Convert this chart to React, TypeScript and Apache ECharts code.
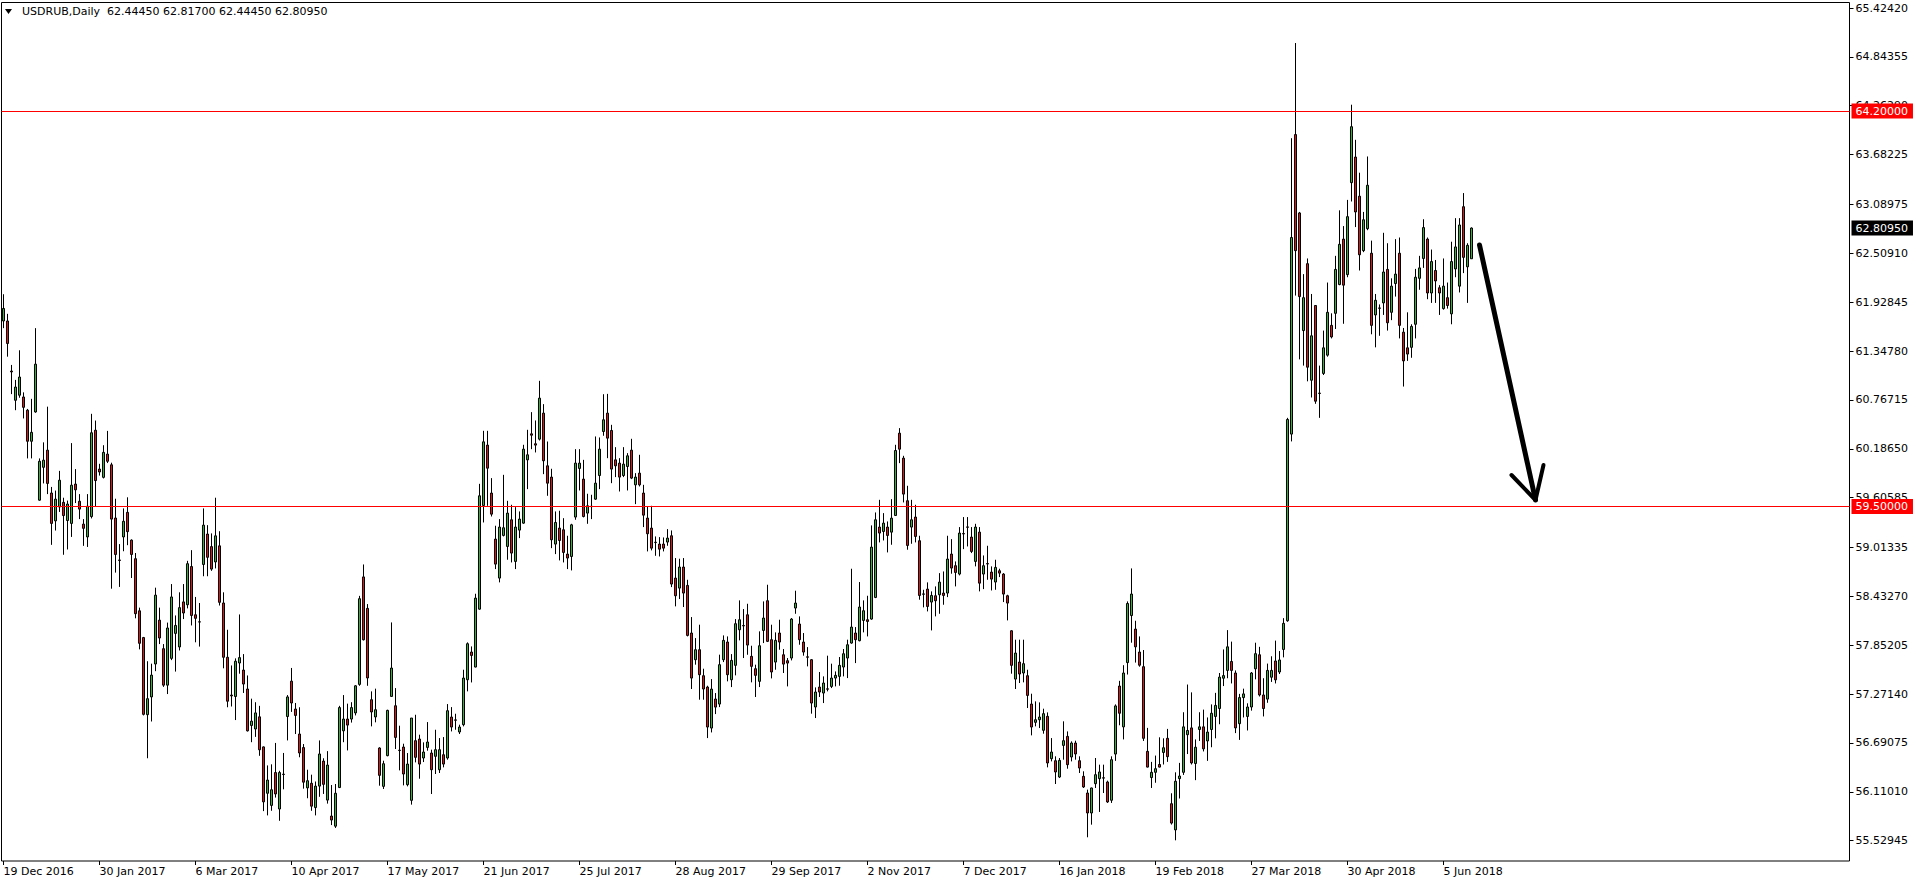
import React, { useEffect, useRef } from 'react';
import * as echarts from 'echarts';

const symbolTitle = 'USDRUB,Daily';
const lastBarOHLC = [62.4445, 62.817, 62.4445, 62.8095];
const dateLabels = ['19 Dec 2016', '30 Jan 2017', '6 Mar 2017', '10 Apr 2017', '17 May 2017', '21 Jun 2017', '25 Jul 2017', '28 Aug 2017', '29 Sep 2017', '2 Nov 2017', '7 Dec 2017', '16 Jan 2018', '19 Feb 2018', '27 Mar 2018', '30 Apr 2018', '5 Jun 2018'];
const barsPerLabel = 24;
const slotCount = 462;
const priceTicks = [55.52945, 56.1101, 56.69075, 57.2714, 57.85205, 58.4327, 59.01335, 59.60585, 60.1865, 60.76715, 61.3478, 61.92845, 62.5091, 63.08975, 63.68225, 64.2629, 64.84355, 65.4242];
const priceMin = 55.2882;
const priceMax = 65.4896;
const levels = [64.2, 59.5];
const lastPrice = 62.8095;
const arrowShaft = [[369.1, 62.608], [383.1, 59.578]];
const arrowLeftWing = [[376.6, 59.875], [383.1, 59.578]];
const arrowRightWing = [[384.6, 59.994], [383.1, 59.578]];

const opens = [
  61.705,61.705,61.110,60.763,60.823,60.802,60.645,60.276,60.624,59.576,
  59.966,60.170,59.661,59.330,59.495,59.550,59.334,59.300,59.767,59.563,
  59.291,59.139,59.381,60.407,59.945,59.847,60.123,59.996,59.364,58.865,
  59.139,59.431,59.101,58.880,58.261,57.943,57.027,57.238,57.629,58.150,
  57.811,57.378,57.696,57.993,57.832,58.367,58.333,58.787,58.214,58.130,
  58.812,59.173,59.024,58.842,59.033,58.354,57.709,57.260,57.243,57.641,
  57.557,57.332,56.899,56.857,57.001,56.644,56.093,55.949,56.339,55.906,
  56.320,57.005,57.425,57.094,56.797,56.636,56.157,56.212,55.923,56.178,
  56.475,56.012,55.822,55.702,56.161,56.835,56.975,56.975,57.048,57.387,
  58.664,58.290,57.205,57.000,56.631,56.175,56.540,57.244,57.133,56.605,
  56.642,56.195,56.009,56.718,56.737,56.512,56.638,56.571,56.532,56.373,
  56.551,56.512,56.999,56.965,56.821,56.908,57.442,57.771,57.593,58.281,
  59.513,60.230,59.660,59.113,58.650,59.157,59.026,59.343,58.848,59.220,
  59.303,60.055,60.364,60.246,60.301,60.610,59.984,59.850,59.054,59.244,
  59.224,58.935,58.907,59.375,59.953,59.826,59.422,59.503,59.588,59.869,
  60.392,60.610,60.404,60.055,60.016,59.869,59.976,60.170,59.758,59.897,
  59.660,59.363,59.244,59.076,59.054,59.054,59.078,59.153,58.650,58.531,
  58.781,58.563,57.997,57.680,57.799,57.490,57.355,56.868,57.213,57.153,
  57.680,57.890,57.442,57.613,58.036,58.086,58.214,57.720,57.573,57.423,
  58.028,58.381,57.918,57.652,57.997,57.739,57.668,57.700,58.294,58.104,
  57.890,57.714,57.680,57.118,57.355,57.284,57.334,57.363,57.462,57.482,
  57.593,57.700,57.878,57.997,57.906,58.147,58.155,58.163,58.420,59.256,
  59.204,59.256,59.196,59.394,60.372,60.075,59.569,59.256,59.375,59.094,
  58.462,58.519,58.365,58.440,58.452,58.472,58.472,58.935,58.797,58.698,
  59.179,59.258,59.137,58.848,59.196,58.698,58.822,58.721,58.603,58.737,
  58.698,58.440,58.024,57.450,57.652,57.522,57.490,57.153,56.936,56.967,
  56.841,57.007,56.504,56.480,56.286,56.662,56.769,56.524,56.690,56.480,
  56.294,56.096,55.859,56.207,56.267,56.277,56.227,56.010,56.559,57.367,
  56.882,57.646,58.205,58.044,57.771,57.597,56.591,56.280,56.342,56.435,
  56.578,56.746,55.969,55.658,56.267,56.342,56.789,56.870,56.447,56.851,
  56.882,56.715,56.851,57.006,57.100,57.460,57.553,57.659,57.522,56.920,
  57.230,57.006,57.118,57.572,57.739,57.261,57.212,57.472,57.665,57.534,
  57.802,58.143,60.361,63.920,62.989,61.591,62.386,61.001,61.889,60.848,
  61.082,61.299,61.653,61.796,62.138,62.678,62.256,63.349,63.653,63.188,
  62.541,62.802,62.510,61.777,61.860,61.920,62.318,61.808,62.150,62.510,
  61.572,61.386,61.392,61.666,62.212,62.448,62.678,62.038,62.305,62.100,
  61.852,61.982,61.790,62.324,62.119,63.063,62.349,62.4445,
];

const highs = [
  62.023,61.790,61.183,61.005,61.357,60.857,60.660,60.780,61.620,60.072,
  60.263,60.687,59.733,59.690,59.924,59.605,59.571,60.254,59.945,59.648,
  59.351,59.648,60.602,60.522,60.008,60.229,60.399,60.021,59.593,59.054,
  59.478,59.610,59.110,58.948,58.299,57.951,57.662,57.633,58.536,58.299,
  57.866,58.121,58.579,58.206,58.481,58.579,58.855,58.982,58.426,58.354,
  59.478,59.279,59.181,59.605,59.207,58.481,58.036,57.612,57.696,58.218,
  57.747,57.493,57.217,57.175,57.132,56.650,56.424,56.437,56.691,56.360,
  56.572,57.260,57.582,57.166,57.115,56.678,56.373,56.314,56.233,56.721,
  56.509,56.594,56.191,56.203,57.132,57.260,57.158,57.175,57.378,58.439,
  58.812,58.341,57.304,57.336,56.640,56.480,57.086,58.123,57.343,56.896,
  56.682,56.571,56.987,57.026,56.789,56.698,56.939,56.611,56.848,56.749,
  56.761,57.153,57.117,57.038,56.908,57.561,57.886,57.838,58.464,59.770,
  60.400,60.400,59.838,59.272,59.351,59.877,59.568,59.521,59.493,59.442,
  60.234,60.412,60.622,60.523,60.994,60.717,60.273,59.949,59.442,59.450,
  59.362,59.153,59.295,60.182,60.182,60.055,59.652,59.640,60.333,60.321,
  60.835,60.839,60.471,60.206,60.075,60.206,60.135,60.305,59.897,60.115,
  59.758,59.501,59.509,59.145,59.137,59.133,59.232,59.216,58.888,58.880,
  58.888,58.630,58.187,57.937,58.096,57.573,57.371,57.450,57.284,57.740,
  57.969,57.957,57.747,58.163,58.385,58.282,58.345,57.846,57.621,58.017,
  58.373,58.571,58.096,58.005,58.155,57.807,57.700,58.175,58.500,58.195,
  57.997,57.830,57.688,57.351,57.534,57.482,57.728,57.633,57.541,57.712,
  57.807,57.918,58.761,58.068,58.603,58.385,58.440,59.276,59.430,59.580,
  59.422,59.323,59.588,60.234,60.432,60.103,59.747,59.580,59.521,59.153,
  58.511,58.599,58.492,58.551,58.709,58.729,59.153,59.113,58.848,59.256,
  59.375,59.375,59.256,59.295,59.256,58.919,59.034,58.789,58.868,58.761,
  58.709,58.452,58.030,57.918,57.918,57.918,57.561,57.276,57.185,57.173,
  57.098,57.054,56.749,56.532,56.512,56.948,56.828,56.710,56.718,56.532,
  56.354,56.136,56.160,56.512,56.433,56.433,56.243,56.532,57.149,57.429,
  57.615,58.373,58.765,58.143,57.957,57.795,56.870,56.466,56.541,56.758,
  56.746,56.858,56.093,56.342,56.454,57.056,57.385,57.292,56.733,57.056,
  57.087,56.994,57.149,57.286,57.522,57.802,58.032,57.895,57.553,57.274,
  57.336,57.162,57.534,57.882,57.833,57.460,57.634,57.721,57.907,57.783,
  58.174,60.554,63.877,65.008,63.001,62.262,62.448,62.026,61.895,61.175,
  61.591,62.162,61.796,62.479,63.020,62.833,63.144,64.275,63.858,63.467,
  63.001,63.660,62.660,62.026,61.902,62.753,62.629,62.212,62.678,62.697,
  61.622,61.808,61.666,62.324,62.479,62.914,62.697,62.554,62.430,62.131,
  62.448,62.162,62.647,62.927,62.927,63.225,62.629,62.817,
];

const lows = [
  61.620,61.281,60.836,60.645,60.793,60.547,60.072,60.072,60.615,59.570,
  59.775,59.648,59.045,59.215,59.436,58.927,58.990,59.139,59.542,59.351,
  59.033,59.020,59.359,59.499,59.868,59.834,60.017,58.524,58.715,58.545,
  58.969,59.041,58.651,58.172,57.803,57.018,56.509,56.946,57.544,57.866,
  57.357,57.272,57.675,57.539,57.790,58.163,58.290,58.087,57.887,57.836,
  58.672,58.672,58.736,58.765,58.324,57.578,57.115,57.124,56.963,57.514,
  57.285,56.827,56.700,56.763,56.538,55.881,55.830,55.885,56.042,55.766,
  56.140,56.721,57.060,56.797,56.521,56.148,56.034,55.885,55.830,56.051,
  56.085,55.970,55.715,55.681,56.155,56.700,56.602,56.933,57.018,57.370,
  57.909,57.370,56.888,56.936,56.183,56.144,56.532,57.240,56.619,56.365,
  56.187,56.175,55.958,56.460,56.266,56.464,56.599,56.084,56.322,56.334,
  56.401,56.492,56.828,56.848,56.797,56.888,57.304,57.410,57.589,58.275,
  59.311,59.509,59.382,58.757,58.599,59.145,58.868,58.836,58.757,59.125,
  59.295,59.707,60.182,60.143,60.285,59.885,59.628,59.006,58.935,58.860,
  58.836,58.757,58.741,59.343,59.691,59.371,59.295,59.351,59.580,59.707,
  60.341,60.075,59.778,59.850,59.679,59.850,59.691,59.826,59.529,59.739,
  59.256,58.967,58.979,58.915,58.907,58.967,59.034,58.543,58.314,58.401,
  58.306,57.957,57.332,57.621,57.205,57.205,56.749,56.816,57.034,57.117,
  57.652,57.423,57.355,57.494,57.910,57.700,57.739,57.411,57.237,57.355,
  57.878,57.890,57.458,57.561,57.799,57.522,57.363,57.672,58.226,57.858,
  57.728,57.601,57.039,56.987,57.237,57.165,57.304,57.343,57.363,57.371,
  57.482,57.462,57.870,57.640,57.898,58.005,57.957,58.155,58.412,59.074,
  59.097,58.955,59.046,59.390,60.016,59.549,58.987,59.058,59.074,58.393,
  58.302,58.254,58.028,58.195,58.226,58.333,58.424,58.702,58.551,58.682,
  58.994,59.026,58.947,58.789,58.492,58.519,58.630,58.503,58.511,58.662,
  58.365,58.147,57.514,57.332,57.403,57.411,57.106,56.781,56.888,56.868,
  56.801,56.401,56.472,56.203,56.274,56.492,56.385,56.472,56.492,56.334,
  56.156,55.570,55.720,56.156,55.871,56.096,55.978,55.978,56.478,56.901,
  56.733,57.504,57.882,57.646,57.597,56.715,56.400,56.156,56.218,56.400,
  56.435,56.466,55.721,55.534,56.031,56.311,56.559,56.435,56.249,56.715,
  56.590,56.478,56.640,56.746,56.913,57.367,57.460,57.398,56.808,56.727,
  56.994,56.839,57.075,57.447,57.243,57.006,57.168,57.416,57.398,57.510,
  57.708,58.131,60.274,62.007,61.249,61.175,60.988,60.796,60.721,60.554,
  61.063,61.281,61.498,61.610,62.130,61.672,62.225,63.125,62.821,62.305,
  62.523,62.784,61.547,61.392,61.529,61.777,61.591,61.715,61.995,61.498,
  60.926,61.231,61.268,61.498,62.076,62.336,61.964,61.920,61.920,61.777,
  61.840,61.852,61.666,62.225,62.044,62.274,61.920,62.4445,
];

const closes = [
  61.854,61.438,61.100,60.920,61.039,60.679,60.276,60.382,61.192,60.038,
  60.051,59.775,59.300,59.588,59.813,59.393,59.529,59.754,59.699,59.470,
  59.241,59.504,60.377,59.809,59.911,60.144,60.038,59.351,58.931,58.860,
  59.325,59.202,58.931,58.227,57.875,57.031,57.217,57.497,58.447,57.938,
  57.378,58.057,58.426,58.087,58.299,58.235,58.821,58.206,58.172,58.128,
  59.279,58.897,58.757,59.152,58.362,57.709,57.187,57.250,57.662,57.705,
  57.391,56.835,56.950,57.048,56.610,55.991,56.250,56.135,56.085,56.339,
  56.316,57.238,57.166,57.018,56.572,56.225,56.242,55.940,56.178,56.560,
  56.199,56.428,55.775,56.093,57.111,56.975,56.903,57.111,57.370,58.405,
  57.917,57.463,57.059,57.086,56.306,56.444,57.078,57.581,56.757,56.601,
  56.322,56.440,56.987,56.520,56.440,56.583,56.702,56.373,56.611,56.611,
  56.440,57.074,56.880,56.961,56.880,57.462,57.870,57.731,58.412,59.628,
  60.269,59.956,59.410,58.816,59.256,59.248,59.422,58.947,59.256,59.351,
  60.182,60.115,60.348,60.230,60.788,60.044,59.778,59.105,59.311,59.097,
  58.955,58.888,59.283,60.016,60.016,59.382,59.509,59.499,59.778,60.182,
  60.531,60.313,59.945,59.984,59.850,60.004,60.103,59.838,59.850,59.758,
  59.398,59.177,59.006,59.072,58.994,59.006,59.125,58.579,58.440,58.781,
  58.472,57.969,57.462,57.799,57.502,57.332,56.880,57.331,57.117,57.621,
  57.910,57.502,57.672,58.108,58.155,58.082,57.854,57.601,57.494,57.846,
  58.175,57.898,57.534,57.910,57.890,57.628,57.640,58.163,58.353,57.918,
  57.771,57.710,57.165,57.296,57.296,57.403,57.330,57.462,57.494,57.613,
  57.751,57.858,58.068,57.918,58.306,58.262,58.135,59.018,59.343,59.185,
  59.303,59.157,59.362,60.166,60.182,59.648,59.038,59.343,59.145,58.444,
  58.458,58.313,58.444,58.381,58.602,58.444,58.876,58.769,58.717,59.185,
  59.175,59.254,58.967,59.256,58.590,58.797,58.818,58.638,58.777,58.709,
  58.460,58.353,57.613,57.759,57.510,57.633,57.256,56.880,56.967,56.999,
  57.039,56.453,56.583,56.346,56.484,56.718,56.433,56.690,56.560,56.393,
  56.168,55.859,56.156,56.314,56.346,56.273,55.990,56.492,57.131,57.044,
  57.522,58.348,58.460,57.833,57.615,56.746,56.404,56.342,56.385,56.404,
  56.634,56.528,55.739,56.236,56.298,56.882,56.839,56.454,56.640,56.882,
  56.621,56.820,57.044,57.137,57.473,57.491,57.833,57.553,56.870,57.230,
  57.274,57.118,57.522,57.752,57.261,57.100,57.553,57.553,57.441,57.677,
  58.112,60.535,62.697,62.541,61.995,61.982,61.156,61.529,60.752,60.844,
  61.386,61.808,61.516,62.318,62.616,62.131,62.945,64.014,63.001,62.492,
  62.908,63.318,61.653,61.951,61.856,62.287,61.684,62.119,62.262,61.653,
  61.231,61.312,61.641,62.225,62.336,62.815,62.038,62.411,62.181,62.038,
  62.119,61.889,62.411,62.585,62.846,62.461,62.604,62.8095,
];

const FONT = 'DejaVu Sans';
const BULL = '#32b432';
const BEAR = '#e01414';
const LEVEL_RED = '#ff0000';

export default function App() {
  const ref = useRef<HTMLDivElement>(null);

  useEffect(() => {
    if (!ref.current) return;
    const chart = echarts.init(ref.current, undefined, { renderer: 'svg' });

    const categories = Array.from({ length: slotCount }, (_, i) => String(i));
    const candles = opens.map((o, i) => [o, closes[i], lows[i], highs[i]]);
    const showAt = (i: number) => i % barsPerLabel === 0 && i / barsPerLabel < dateLabels.length;
    const headerText = symbolTitle + '  ' + lastBarOHLC.map((v) => v.toFixed(5)).join(' ');

    const priceLabel = (bg: string) => ({
      show: true,
      position: 'end',
      distance: 2,
      color: '#ffffff',
      backgroundColor: bg,
      padding: [2, 5, 1, 4],
      fontSize: 11,
      fontFamily: FONT,
      lineHeight: 12,
      opacity: 1,
    });

    const arrowStyle = { color: '#000', width: 5, type: 'solid', cap: 'round', opacity: 1 };

    chart.setOption({
      animation: false,
      backgroundColor: '#ffffff',
      textStyle: { fontFamily: FONT },
      grid: {
        left: 1.5,
        top: 2.5,
        width: 1848,
        height: 858.5,
        show: true,
        borderColor: '#000',
        borderWidth: 1,
        backgroundColor: 'transparent',
      },
      xAxis: {
        type: 'category',
        data: categories,
        boundaryGap: true,
        axisLine: { show: false },
        axisTick: {
          show: true,
          alignWithLabel: true,
          interval: (i: number) => showAt(i),
          length: 4,
          lineStyle: { color: '#000' },
        },
        axisLabel: {
          interval: (i: number) => showAt(i),
          formatter: (_v: string, i: number) => (showAt(i) ? dateLabels[i / barsPerLabel] : ''),
          align: 'left',
          color: '#000',
          fontSize: 11,
          fontFamily: FONT,
          margin: 5,
        },
        splitLine: { show: false },
      },
      yAxis: {
        type: 'value',
        position: 'right',
        min: priceMin,
        max: priceMax,
        axisLine: { show: false },
        axisTick: {
          show: true,
          customValues: priceTicks,
          length: 4,
          lineStyle: { color: '#000' },
        },
        axisLabel: {
          customValues: priceTicks,
          formatter: (v: number) => v.toFixed(5),
          color: '#000',
          fontSize: 11,
          fontFamily: FONT,
          margin: 6,
        },
        splitLine: { show: false },
      },
      series: [
        {
          type: 'candlestick',
          data: candles,
          barWidth: 3,
          itemStyle: {
            color: BULL,
            color0: BEAR,
            borderColor: '#000',
            borderColor0: '#000',
            borderColorDoji: '#000',
            borderWidth: 1,
          },
          markLine: {
            silent: true,
            symbol: ['none', 'none'],
            lineStyle: { type: 'solid' },
            data: [
              ...levels.map((lv) => ({
                yAxis: lv,
                lineStyle: { color: LEVEL_RED, width: 1, type: 'solid' },
                label: { ...priceLabel(LEVEL_RED), formatter: lv.toFixed(5) },
              })),
              {
                yAxis: lastPrice,
                lineStyle: { color: 'rgba(0,0,0,0)', width: 1, type: 'solid' },
                label: { ...priceLabel('#000000'), formatter: lastPrice.toFixed(5) },
              },
              [
                { coord: arrowShaft[0], lineStyle: arrowStyle, label: { show: false } },
                { coord: arrowShaft[1] },
              ],
              [
                { coord: arrowLeftWing[0], lineStyle: { ...arrowStyle, width: 4 }, label: { show: false } },
                { coord: arrowLeftWing[1] },
              ],
              [
                { coord: arrowRightWing[0], lineStyle: { ...arrowStyle, width: 4 }, label: { show: false } },
                { coord: arrowRightWing[1] },
              ],
            ],
          },
        },
      ],
      graphic: [
        {
          type: 'polygon',
          shape: { points: [[5, 9], [12, 9], [8.5, 14]] },
          style: { fill: '#000' },
        },
        {
          type: 'text',
          left: 22,
          top: 6,
          style: { text: headerText, fontSize: 11, fontFamily: FONT, fill: '#000' },
        },
      ],
    });

    return () => chart.dispose();
  }, []);

  return (
    <div
      ref={ref}
      style={{ position: 'fixed', left: 0, top: 0, width: 1916, height: 884, background: '#fff' }}
    />
  );
}
